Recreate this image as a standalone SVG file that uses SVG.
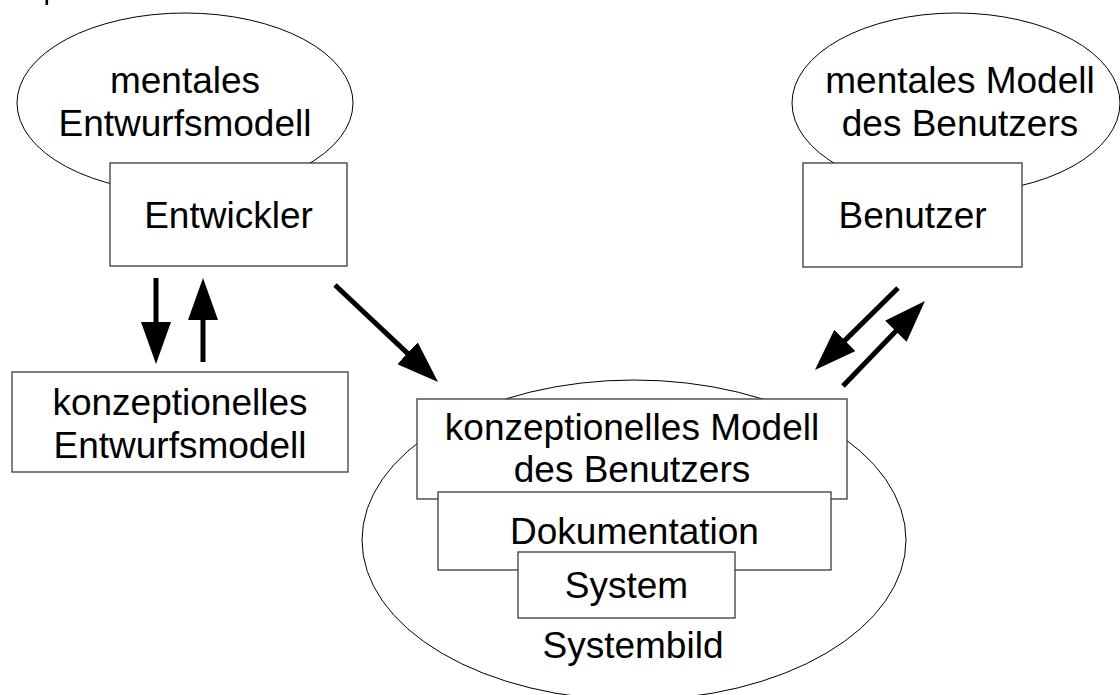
<svg xmlns="http://www.w3.org/2000/svg" width="1120" height="695" viewBox="0 0 1120 695">
  <style>
    .bg { fill: #ffffff; }
    .oval { fill: #ffffff; stroke: #000000; stroke-width: 1; }
    .box { fill: #ffffff; stroke: #3a3a3a; stroke-width: 1.3; }
    .lbl { font-family: "Liberation Sans", Arial, sans-serif; font-size: 37px; fill: #000000; text-anchor: middle; }
    .arrow { stroke: #000000; stroke-width: 5; fill: none; marker-end: url(#head); }
  </style>
  <defs>
    <marker id="head" markerUnits="userSpaceOnUse" markerWidth="42" markerHeight="30" refX="2" refY="15" orient="auto">
      <path d="M0,0 L42,15 L0,30 Z" fill="#000000"/>
    </marker>
  </defs>

  <rect class="bg" x="0" y="0" width="1120" height="695"/>

  <!-- short stroke at the top edge -->
  <rect x="45.5" y="0" width="2.6" height="5" fill="#000000"/>

  <!-- developer side -->
  <g id="mentales-entwurfsmodell">
    <ellipse class="oval" cx="185" cy="103" rx="168" ry="90"/>
    <text class="lbl" x="185" y="93">mentales</text>
    <text class="lbl" x="185" y="136">Entwurfsmodell</text>
  </g>
  <g id="entwickler">
    <rect class="box" x="110" y="163" width="237" height="103"/>
    <text class="lbl" x="228.5" y="228">Entwickler</text>
  </g>
  <g id="konzeptionelles-entwurfsmodell">
    <rect class="box" x="12" y="372" width="336" height="100"/>
    <text class="lbl" x="180" y="415">konzeptionelles</text>
    <text class="lbl" x="180" y="458">Entwurfsmodell</text>
  </g>

  <!-- user side -->
  <g id="mentales-modell-benutzer">
    <ellipse class="oval" cx="956" cy="103" rx="164" ry="90"/>
    <text class="lbl" x="960" y="93">mentales Modell</text>
    <text class="lbl" x="960" y="136">des Benutzers</text>
  </g>
  <g id="benutzer">
    <rect class="box" x="803" y="163" width="219" height="104"/>
    <text class="lbl" x="912.5" y="228">Benutzer</text>
  </g>

  <!-- system image: layered boxes inside one oval -->
  <g id="systembild">
    <ellipse class="oval" cx="634" cy="540" rx="272" ry="160"/>
    <text class="lbl" x="633" y="658">Systembild</text>
  </g>
  <g id="konzeptionelles-modell">
    <rect class="box" x="417" y="399" width="430" height="100"/>
    <text class="lbl" x="632" y="440">konzeptionelles Modell</text>
    <text class="lbl" x="632" y="482">des Benutzers</text>
  </g>
  <g id="dokumentation">
    <rect class="box" x="438" y="492" width="393" height="78"/>
    <text class="lbl" x="634.5" y="544">Dokumentation</text>
  </g>
  <g id="system">
    <rect class="box" x="518" y="552" width="217" height="66"/>
    <text class="lbl" x="626.5" y="598">System</text>
  </g>

  <!-- connectors -->
  <g id="connectors">
    <line class="arrow" x1="156" y1="278" x2="156" y2="324"/>
    <line class="arrow" x1="203" y1="362" x2="203" y2="318"/>
    <line class="arrow" x1="335" y1="285" x2="408.9" y2="354.6"/>
    <line class="arrow" x1="898" y1="288" x2="843.4" y2="341.9"/>
    <line class="arrow" x1="843" y1="386" x2="897.2" y2="329.8"/>
  </g>
</svg>
